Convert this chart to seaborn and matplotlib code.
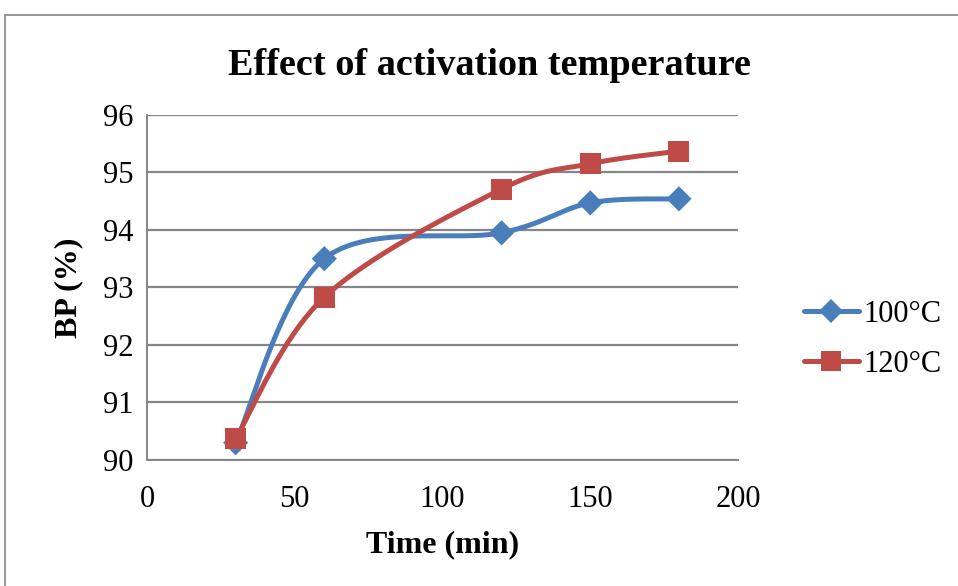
import numpy as np
import pandas as pd
import matplotlib
matplotlib.use("Agg")
import matplotlib.pyplot as plt
from matplotlib.lines import Line2D
from matplotlib.patches import Rectangle
import seaborn as sns

# Measured breakthrough percentage over time for two activation temperatures
time_min = [30, 60, 120, 150, 180]
bp_100 = [90.30, 93.50, 93.95, 94.47, 94.54]
bp_120 = [90.37, 92.83, 94.71, 95.15, 95.37]
series_labels = ["100°C", "120°C"]
x_ticks = [0, 50, 100, 150, 200]
y_ticks = [90, 91, 92, 93, 94, 95, 96]

colors = {"100°C": "#4A7EBB", "120°C": "#BE4B48"}
markers = {"100°C": "D", "120°C": "s"}


def smooth_curve(xs, ys, n=40):
    """Catmull-Rom style Bezier smoothing through every data point."""
    pts = np.column_stack([xs, ys]).astype(float)
    ext = np.vstack([pts[0], pts, pts[-1]])
    out = []
    t = np.linspace(0, 1, n)[:, None]
    for i in range(1, len(ext) - 2):
        p0, p1, p2, p3 = ext[i - 1], ext[i], ext[i + 1], ext[i + 2]
        b1 = p1 + (p2 - p0) / 6.0
        b2 = p2 - (p3 - p1) / 6.0
        seg = ((1 - t) ** 3) * p1 + 3 * ((1 - t) ** 2) * t * b1 \
            + 3 * (1 - t) * t ** 2 * b2 + t ** 3 * p2
        out.append(seg if i == 1 else seg[1:])
    return np.vstack(out)


points = pd.DataFrame({
    "Time": time_min * 2,
    "BP": bp_100 + bp_120,
    "Series": [series_labels[0]] * len(time_min) + [series_labels[1]] * len(time_min),
})

curves = []
for label, vals in zip(series_labels, [bp_100, bp_120]):
    c = smooth_curve(time_min, vals)
    curves.append(pd.DataFrame({"Time": c[:, 0], "BP": c[:, 1], "Series": label,
                                "order": np.arange(len(c))}))
curves = pd.concat(curves, ignore_index=True)

sns.set_style("white")
plt.rcParams["font.family"] = ["Liberation Serif", "DejaVu Serif"]
plt.rcParams["text.color"] = "black"
plt.rcParams["axes.labelcolor"] = "black"
plt.rcParams["xtick.labelcolor"] = "black"
plt.rcParams["ytick.labelcolor"] = "black"

fig = plt.figure(figsize=(9.58, 5.86), dpi=100)
ax = fig.add_axes([0.1534, 0.215, 0.6170, 0.589])

for label in series_labels:
    sub = curves[curves["Series"] == label]
    sns.lineplot(data=sub, x="Time", y="BP", sort=False, estimator=None,
                 color=colors[label], linewidth=3.6, ax=ax, legend=False, zorder=3)

for label in series_labels:
    sub = points[points["Series"] == label]
    sns.scatterplot(data=sub, x="Time", y="BP", marker=markers[label],
                    color=colors[label], s=230 if label == "120°C" else 165,
                    edgecolor="none", ax=ax, legend=False, zorder=4)

ax.set_xlim(0, 200)
ax.set_ylim(90, 96)
ax.set_xticks(x_ticks)
ax.set_yticks(y_ticks)
ax.tick_params(axis="both", labelsize=22, length=6, width=1.2, color="#868686",
               direction="out")
ax.tick_params(axis="x", pad=12)
ax.tick_params(axis="y", pad=4)
ax.yaxis.grid(True, color="#868686", linewidth=1.6)
ax.xaxis.grid(False)
for side in ["top", "right"]:
    ax.spines[side].set_visible(False)
for side in ["left", "bottom"]:
    ax.spines[side].set_color("#868686")
    ax.spines[side].set_linewidth(1.4)
ax.set_axisbelow(True)

ax.set_xlabel("Time (min)", fontsize=23, fontweight="bold", labelpad=12)
ax.set_ylabel("BP (%)", fontsize=23, fontweight="bold", labelpad=14)
fig.text(0.511, 0.888, "Effect of activation temperature", ha="center", va="center",
         fontsize=27.5, fontweight="bold")

handles = [Line2D([0], [0], color=colors[l], marker=markers[l], linewidth=3.6,
                  markersize=12 if l == "100°C" else 14, markeredgewidth=0)
           for l in series_labels]
fig.legend(handles, series_labels, loc="center left", bbox_to_anchor=(0.823, 0.421),
           frameon=False, fontsize=22, handlelength=1.8, handletextpad=0.15,
           labelspacing=0.7, borderpad=0)

# Outer chart frame
fig.patches.append(Rectangle((5 / 958, -0.1), 1.2, 1.1 - 15 / 586,
                             transform=fig.transFigure, fill=False,
                             edgecolor="#868686", linewidth=1.2))

fig.savefig("out.png", dpi=100)
